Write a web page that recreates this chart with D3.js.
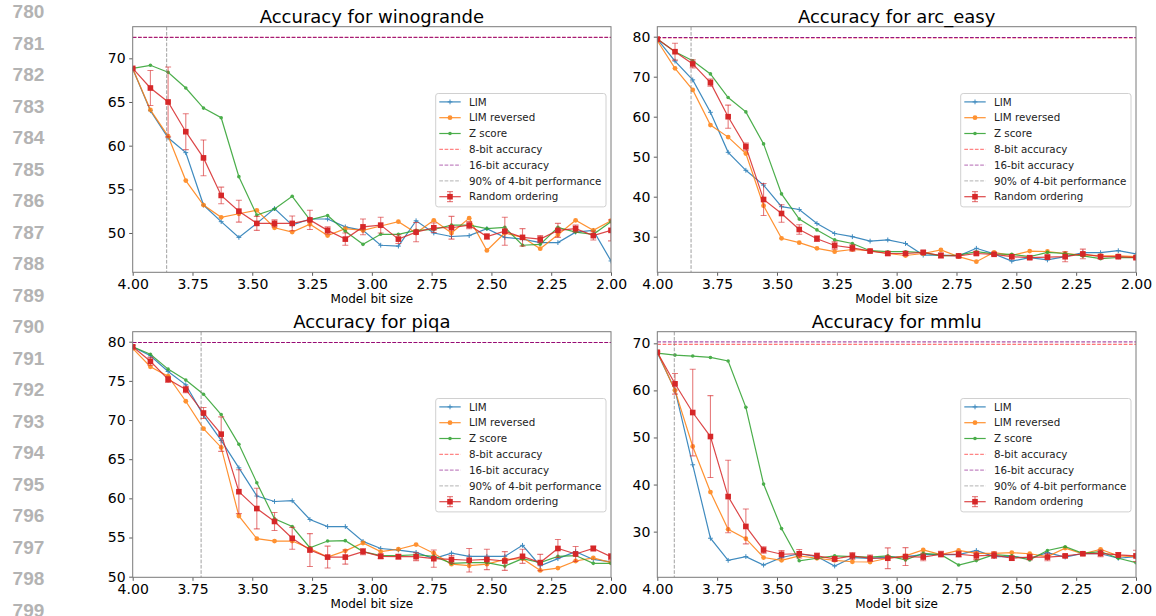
<!DOCTYPE html>
<html><head><meta charset="utf-8">
<script src="https://cdn.jsdelivr.net/npm/d3@7"></script>
<style>
body{margin:0;background:#fff}
svg{display:block}
text{font-family:"DejaVu Sans",sans-serif}
</style>
</head><body>
<svg id="c" width="1156" height="616"></svg>
<script>
// ---------- data ----------
const bitSizes = [4.000, 3.926, 3.852, 3.778, 3.704, 3.630, 3.556, 3.481, 3.407, 3.333,
  3.259, 3.185, 3.111, 3.037, 2.963, 2.889, 2.815, 2.741, 2.667, 2.593,
  2.519, 2.444, 2.370, 2.296, 2.222, 2.148, 2.074, 2.000];
const tasks = ["winogrande", "arc_easy", "piqa", "mmlu"];
const seriesNames = ["LIM", "LIM reversed", "Z score", "8-bit accuracy", "16-bit accuracy", "90% of 4-bit performance", "Random ordering"];
const xTicks = [4.00, 3.75, 3.50, 3.25, 3.00, 2.75, 2.50, 2.25, 2.00];

const winograndeLIM = [68.8, 64.0, 60.9, 59.2, 53.2, 51.3, 49.5, 51.1, 52.8, 50.9, 51.6, 51.6, 50.7, 50.3, 48.6, 48.5, 51.4, 50.0, 49.6, 49.7, 50.5, 49.5, 49.3, 48.9, 48.9, 50.1, 50.3, 46.8];
const winograndeLIMrev = [68.8, 64.1, 61.1, 56.0, 53.2, 51.8, 52.2, 52.6, 50.6, 50.1, 51.0, 49.7, 50.5, 50.3, 50.8, 51.3, 50.0, 51.45, 50.0, 51.7, 48.0, 50.0, 49.5, 48.2, 49.8, 51.45, 50.3, 51.4];
const winograndeZ = [68.85, 69.2, 68.4, 66.6, 64.3, 63.2, 56.45, 52.05, 52.75, 54.2, 51.5, 52.0, 50.2, 48.7, 49.85, 49.85, 50.3, 50.4, 50.9, 50.9, 50.5, 50.65, 48.6, 48.7, 50.65, 50.1, 49.85, 51.3];
const winograndeRand = [68.85, 66.6, 65.0, 61.6, 58.6, 54.3, 52.5, 51.1, 51.1, 51.1, 51.5, 50.3, 49.3, 50.7, 50.9, 49.3, 50.1, 50.6, 50.6, 50.9, 49.6, 50.2, 49.5, 49.3, 50.3, 50.5, 49.7, 50.3];
const winograndeRandErr = [0.1, 2.0, 4.0, 2.05, 2.05, 0.95, 1.25, 0.8, 0.4, 0.85, 1.1, 0.4, 0.7, 0.9, 0.9, 0.5, 1.1, 0.55, 1.3, 0.4, 0.3, 1.6, 1.0, 0.4, 0.8, 0.4, 0.5, 1.2];

const arcLIM = [79.4, 73.9, 69.2, 61.1, 51.1, 46.6, 42.9, 37.5, 36.8, 33.3, 30.8, 30.0, 28.9, 29.2, 28.3, 25.4, 25.4, 25.2, 27.1, 25.7, 23.9, 24.75, 24.2, 25.0, 26.0, 26.0, 26.5, 25.7];
const arcLIMrev = [79.0, 72.1, 66.7, 57.9, 54.9, 50.8, 37.75, 29.6, 28.5, 27.1, 26.25, 26.8, 26.5, 25.8, 25.3, 25.8, 26.7, 25.0, 23.75, 26.1, 25.3, 26.4, 26.3, 25.8, 25.4, 25.25, 25.2, 25.0];
const arcZ = [79.4, 76.25, 74.0, 70.7, 64.8, 61.2, 53.2, 40.7, 34.4, 31.7, 29.2, 28.3, 26.5, 26.25, 26.25, 26.0, 25.2, 25.4, 26.25, 25.7, 25.6, 25.0, 26.1, 25.8, 25.2, 24.5, 24.8, 24.75];
const arcRand = [79.4, 76.25, 73.2, 68.5, 60.0, 52.5, 39.3, 35.8, 31.8, 29.5, 27.8, 27.2, 26.4, 25.8, 25.8, 26.1, 25.3, 25.2, 25.8, 25.6, 25.0, 24.75, 24.9, 25.0, 25.7, 25.0, 25.0, 24.75];
const arcRandErr = [0.2, 2.1, 1.0, 0.9, 2.9, 0.9, 4.0, 2.2, 1.2, 0.7, 0.9, 0.8, 0.3, 0.4, 0.5, 0.4, 0.6, 0.4, 0.4, 0.3, 0.5, 0.4, 0.5, 1.25, 1.2, 0.5, 0.4, 0.3];

const piqaLIM = [79.35, 78.2, 76.2, 74.5, 70.6, 67.4, 63.9, 60.3, 59.6, 59.7, 57.3, 56.4, 56.4, 54.5, 53.6, 53.4, 53.1, 52.3, 53.0, 52.6, 52.6, 52.6, 54.0, 51.4, 52.3, 53.2, 52.2, 51.9];
const piqaLIMrev = [79.15, 76.8, 75.6, 72.4, 68.9, 66.5, 57.75, 54.85, 54.55, 54.55, 53.6, 52.5, 53.3, 54.3, 53.2, 53.5, 54.1, 53.0, 51.6, 51.4, 51.6, 52.2, 52.3, 50.8, 51.1, 52.0, 52.4, 51.8];
const piqaZ = [79.35, 78.4, 76.5, 75.1, 73.3, 70.7, 66.9, 62.0, 57.4, 56.4, 53.7, 54.55, 54.6, 53.2, 52.7, 52.7, 52.8, 52.6, 51.7, 51.8, 51.8, 51.35, 52.3, 51.8, 52.6, 52.7, 51.7, 51.7];
const piqaRand = [79.35, 77.5, 75.2, 73.9, 70.9, 68.2, 60.85, 58.7, 57.05, 54.9, 53.4, 52.5, 52.5, 53.2, 52.6, 52.55, 52.55, 52.3, 52.2, 52.1, 52.2, 52.0, 52.6, 51.8, 53.6, 52.9, 53.6, 52.55];
const piqaRandErr = [0.2, 0.5, 0.4, 0.4, 0.7, 2.2, 2.8, 2.6, 1.15, 1.4, 2.1, 1.4, 0.9, 0.4, 0.3, 0.3, 0.5, 1.1, 0.5, 1.5, 1.3, 1.2, 0.9, 1.05, 1.15, 0.95, 0.3, 0.4];

const mmluLIM = [68.0, 60.1, 44.2, 28.6, 23.9, 24.7, 22.9, 24.5, 25.3, 24.7, 22.7, 24.5, 24.3, 24.6, 24.7, 25.1, 25.1, 25.1, 26.0, 24.7, 24.7, 24.35, 25.55, 24.6, 25.4, 25.3, 24.35, 24.7];
const mmluLIMrev = [68.2, 60.0, 48.1, 38.4, 30.5, 28.5, 24.5, 23.9, 24.85, 24.35, 23.9, 23.6, 23.55, 24.35, 24.85, 26.1, 25.1, 26.0, 25.4, 25.4, 25.55, 25.3, 24.7, 26.5, 25.3, 26.25, 24.85, 24.7];
const mmluZ = [67.9, 67.5, 67.3, 67.0, 66.25, 56.4, 40.1, 30.65, 23.8, 24.35, 24.85, 24.7, 24.6, 24.85, 24.0, 25.4, 25.1, 22.9, 23.85, 25.1, 24.85, 24.0, 26.0, 26.8, 25.4, 25.75, 24.35, 23.4];
const mmluRand = [68.1, 61.4, 55.3, 50.2, 37.45, 31.1, 26.1, 25.2, 25.3, 24.85, 24.2, 24.85, 24.35, 24.35, 24.7, 24.6, 25.2, 25.2, 24.85, 25.0, 24.35, 24.6, 24.6, 24.85, 25.3, 25.4, 25.05, 24.85];
const mmluRandErr = [0.2, 2.2, 9.2, 8.7, 7.7, 3.7, 0.7, 0.8, 0.9, 0.6, 0.5, 0.7, 0.7, 2.2, 1.9, 0.8, 0.6, 0.6, 0.8, 0.7, 0.4, 0.6, 0.8, 0.3, 0.3, 0.7, 0.5, 1.2];

const eightBitAccuracy = [72.4, 79.7, 79.9, 69.8];
const sixteenBitAccuracy = [72.4, 79.8, 79.9, 70.3];
const ninetyPctBits = [3.858, 3.859, 3.714, 3.929];
const yTickValues = [[50, 55, 60, 65, 70], [30, 40, 50, 60, 70, 80], [50, 55, 60, 65, 70, 75, 80], [30, 40, 50, 60, 70]];
const lineNumbers = d3.range(780, 800);

// ---------- layout / style ----------
const panelData = [
  {lim: winograndeLIM, rev: winograndeLIMrev, z: winograndeZ, rand: winograndeRand, err: winograndeRandErr},
  {lim: arcLIM, rev: arcLIMrev, z: arcZ, rand: arcRand, err: arcRandErr},
  {lim: piqaLIM, rev: piqaLIMrev, z: piqaZ, rand: piqaRand, err: piqaRandErr},
  {lim: mmluLIM, rev: mmluLIMrev, z: mmluZ, rand: mmluRand, err: mmluRandErr}
];
const boxes = [
  {x0: 132.7, x1: 611, y0: 26.7, y1: 272.3, yd: [45.5, 73.62]},
  {x0: 657.3, x1: 1136, y0: 26.7, y1: 272.3, yd: [21.1, 82.5]},
  {x0: 132.7, x1: 611, y0: 331.7, y1: 577.3, yd: [49.92, 81.28]},
  {x0: 657.3, x1: 1136, y0: 331.7, y1: 577.3, yd: [20.3, 72.47]}
];
const C = {blue: "#1f77b4", orange: "#ff7f0e", green: "#2ca02c", red: "#d62728",
  eight: "red", sixteen: "purple", ninety: "gray"};

const svg = d3.select("#c");
svg.append("rect").attr("width", 1156).attr("height", 616).attr("fill", "#fff");

// line numbers
svg.append("g").selectAll("text").data(lineNumbers).join("text")
  .attr("x", 44.3).attr("y", (d, i) => 11.2 + i * 31.5).attr("dy", "0.36em")
  .attr("text-anchor", "end")
  .style("font-family", "'Liberation Sans', Arial, sans-serif")
  .style("font-weight", "bold").style("font-size", "19px").attr("fill", "#b3b3b3")
  .text(d => d);

function markerPlus(sel, color) {
  sel.append("path").attr("d", "M-2.4,0H2.4M0,-2.4V2.4").attr("stroke", color).attr("stroke-width", 1).attr("fill", "none");
}

function drawPanel(k) {
  const b = boxes[k], D = panelData[k];
  const g = svg.append("g");
  const x = d3.scaleLinear().domain([4, 2]).range([b.x0, b.x1]);
  const y = d3.scaleLinear().domain(b.yd).range([b.y1, b.y0]);

  const clipId = "clip" + k;
  svg.append("defs").append("clipPath").attr("id", clipId)
    .append("rect").attr("x", b.x0).attr("y", b.y0).attr("width", b.x1 - b.x0).attr("height", b.y1 - b.y0);
  const plot = g.append("g").attr("clip-path", `url(#${clipId})`);

  const line = d3.line().x((d, i) => x(bitSizes[i])).y(d => y(d));

  function series(vals, color, marker) {
    const sg = plot.append("g").attr("opacity", 0.85);
    sg.append("path").datum(vals).attr("d", line).attr("fill", "none")
      .attr("stroke", color).attr("stroke-width", 1.2);
    const pts = sg.selectAll("g.m").data(vals).join("g").attr("class", "m")
      .attr("transform", (d, i) => `translate(${x(bitSizes[i])},${y(d)})`);
    if (marker === "plus") markerPlus(pts, color);
    else if (marker === "circle") pts.append("circle").attr("r", 2.4).attr("fill", color);
    else if (marker === "dot") pts.append("circle").attr("r", 1.8).attr("fill", color);
  }
  series(D.lim, C.blue, "plus");
  series(D.rev, C.orange, "circle");
  series(D.z, C.green, "dot");

  // reference lines
  plot.append("line").attr("x1", b.x0).attr("x2", b.x1)
    .attr("y1", y(eightBitAccuracy[k])).attr("y2", y(eightBitAccuracy[k]))
    .attr("stroke", C.eight).attr("stroke-opacity", 0.7).attr("stroke-width", 1).attr("stroke-dasharray", "3.7,1.6");
  plot.append("line").attr("x1", b.x0).attr("x2", b.x1)
    .attr("y1", y(sixteenBitAccuracy[k])).attr("y2", y(sixteenBitAccuracy[k]))
    .attr("stroke", C.sixteen).attr("stroke-opacity", 0.85).attr("stroke-width", 1).attr("stroke-dasharray", "3.7,1.6");
  plot.append("line").attr("x1", x(ninetyPctBits[k])).attr("x2", x(ninetyPctBits[k]))
    .attr("y1", b.y0).attr("y2", b.y1)
    .attr("stroke", C.ninety).attr("stroke-opacity", 0.75).attr("stroke-width", 1).attr("stroke-dasharray", "3.7,1.6");

  // random ordering with error bars
  const rg = plot.append("g");
  const eb = rg.append("g").attr("stroke", C.red).attr("stroke-opacity", 0.6).attr("stroke-width", 1.1);
  D.rand.forEach((v, i) => {
    const xi = x(bitSizes[i]), lo = y(v - D.err[i]), hi = y(v + D.err[i]);
    eb.append("line").attr("x1", xi).attr("x2", xi).attr("y1", lo).attr("y2", hi);
    eb.append("line").attr("x1", xi - 3).attr("x2", xi + 3).attr("y1", lo).attr("y2", lo);
    eb.append("line").attr("x1", xi - 3).attr("x2", xi + 3).attr("y1", hi).attr("y2", hi);
  });
  rg.append("path").datum(D.rand).attr("d", line).attr("fill", "none")
    .attr("stroke", C.red).attr("stroke-opacity", 0.85).attr("stroke-width", 1.2);
  rg.selectAll("rect.sq").data(D.rand).join("rect").attr("class", "sq")
    .attr("x", (d, i) => x(bitSizes[i]) - 2.8).attr("y", d => y(d) - 2.8)
    .attr("width", 5.6).attr("height", 5.6).attr("fill", C.red);

  // axes
  const xa = g.append("g").attr("transform", `translate(0,${b.y1})`)
    .call(d3.axisBottom(x).tickValues(xTicks).tickFormat(d3.format(".2f")).tickSize(3.5).tickPadding(3.5));
  const ya = g.append("g").attr("transform", `translate(${b.x0},0)`)
    .call(d3.axisLeft(y).tickValues(yTickValues[k]).tickFormat(d3.format("d")).tickSize(3.5).tickPadding(3.5));
  [xa, ya].forEach(a => {
    a.select(".domain").remove();
    a.selectAll("text").style("font-family", "'DejaVu Sans', sans-serif").style("font-size", "14px").attr("fill", "#000");
    a.selectAll("line").attr("stroke", "#333").attr("stroke-width", 0.8);
  });
  g.append("rect").attr("x", b.x0).attr("y", b.y0).attr("width", b.x1 - b.x0).attr("height", b.y1 - b.y0)
    .attr("fill", "none").attr("stroke", "#7a7a7a").attr("stroke-width", 1);

  // title and x label
  g.append("text").attr("x", (b.x0 + b.x1) / 2).attr("y", b.y0 - 4).attr("text-anchor", "middle")
    .style("font-size", "18px").text("Accuracy for " + tasks[k]);
  g.append("text").attr("x", (b.x0 + b.x1) / 2).attr("y", b.y1 + 31).attr("text-anchor", "middle")
    .style("font-size", "12px").text("Model bit size");

  // legend
  const lw = 170.3, lh = 113.4;
  const lx = b.x1 - 5 - lw, ly = (b.y0 + b.y1) / 2 + 0.7 - lh / 2;
  const lg = g.append("g");
  lg.append("rect").attr("x", lx).attr("y", ly).attr("width", lw).attr("height", lh).attr("rx", 2.5)
    .attr("fill", "#fff").attr("fill-opacity", 0.85).attr("stroke", "#d0d0d0").attr("stroke-width", 1);
  const hx0 = lx + 3.6, hx1 = lx + 25, hxm = (hx0 + hx1) / 2;
  seriesNames.forEach((name, i) => {
    const cy = ly + 8.4 + i * 15.8;
    const row = lg.append("g");
    if (i < 3) {
      const col = [C.blue, C.orange, C.green][i];
      const rr = row.append("g").attr("opacity", 0.85);
      rr.append("line").attr("x1", hx0).attr("x2", hx1).attr("y1", cy).attr("y2", cy).attr("stroke", col).attr("stroke-width", 1.2);
      const m = rr.append("g").attr("transform", `translate(${hxm},${cy})`);
      if (i === 0) markerPlus(m, col);
      else m.append("circle").attr("r", i === 1 ? 2.4 : 1.8).attr("fill", col);
    } else if (i < 6) {
      const col = [C.eight, C.sixteen, C.ninety][i - 3];
      row.append("line").attr("x1", hx0).attr("x2", hx1).attr("y1", cy).attr("y2", cy)
        .attr("stroke", col).attr("stroke-opacity", 0.6).attr("stroke-width", 1).attr("stroke-dasharray", "3.7,1.6");
    } else {
      row.append("line").attr("x1", hxm).attr("x2", hxm).attr("y1", cy - 5).attr("y2", cy + 5).attr("stroke", C.red).attr("stroke-opacity", 0.7);
      row.append("line").attr("x1", hxm - 3).attr("x2", hxm + 3).attr("y1", cy - 5).attr("y2", cy - 5).attr("stroke", C.red).attr("stroke-opacity", 0.7);
      row.append("line").attr("x1", hxm - 3).attr("x2", hxm + 3).attr("y1", cy + 5).attr("y2", cy + 5).attr("stroke", C.red).attr("stroke-opacity", 0.7);
      row.append("line").attr("x1", hx0).attr("x2", hx1).attr("y1", cy).attr("y2", cy).attr("stroke", C.red).attr("stroke-opacity", 0.85).attr("stroke-width", 1.2);
      row.append("rect").attr("x", hxm - 2.8).attr("y", cy - 2.8).attr("width", 5.6).attr("height", 5.6).attr("fill", C.red);
    }
    row.append("text").attr("x", lx + 33.3).attr("y", cy).attr("dy", "0.35em")
      .style("font-size", "10.3px").attr("fill", "#222").text(name);
  });
}

d3.range(4).forEach(drawPanel);
</script>
</body></html>
